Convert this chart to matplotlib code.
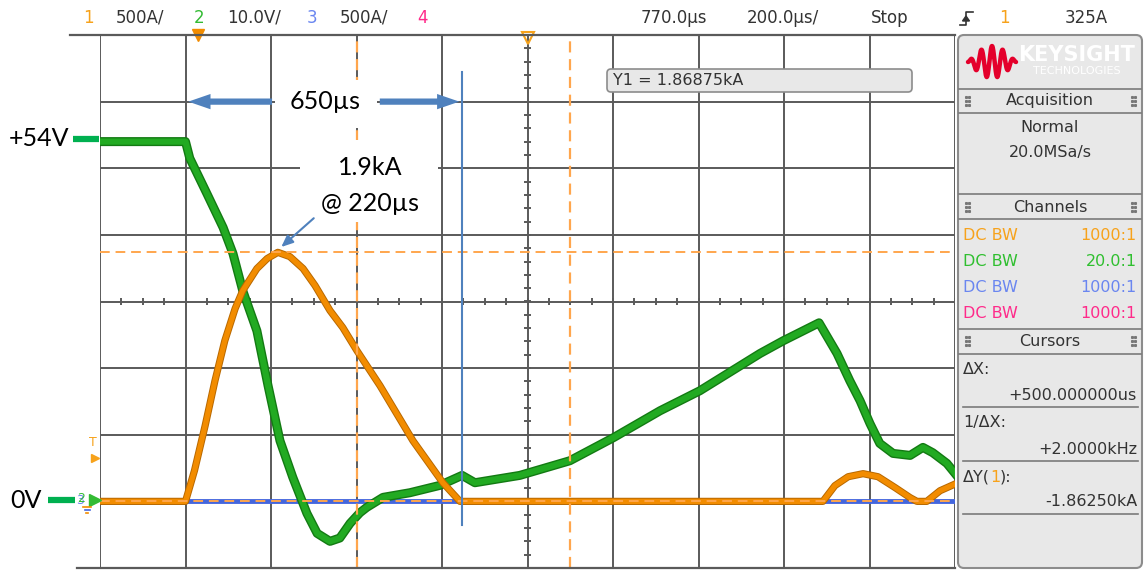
import numpy as np
import matplotlib.pyplot as plt
from matplotlib.patches import FancyBboxPatch, FancyArrowPatch, Polygon, Rectangle
import matplotlib.patheffects as pe

# channel 1 (current, A) - time in us
t1 = [-230, -30, -9, 16, 39, 62, 86, 104, 137, 161, 186, 214, 245, 273, 308, 338,
      371, 425, 502, 572, 612, 1461, 1489, 1520, 1555, 1590, 1630, 1665, 1681, 1704,
      1735, 1770]
a1 = [0, 0, 231, 569, 906, 1206, 1446, 1582, 1747, 1822, 1869, 1837, 1747, 1620,
      1432, 1304, 1131, 868, 455, 140, 0, 0, 118, 185, 208, 185, 103, 28, 0, 0, 80, 130]

# channel 2 (voltage, V)
t2 = [-230, -30, -20, 20, 58, 81, 104, 137, 163, 191, 221, 254, 278, 308, 331, 355,
      378, 394, 432, 495, 565, 617, 647, 752, 869, 972, 1080, 1173, 1314, 1368, 1452,
      1494, 1524, 1548, 1571, 1594, 1625, 1665, 1695, 1718, 1751, 1770]
v2 = [54, 54, 51.5, 46.2, 41.1, 37.2, 31.6, 25.6, 17.4, 9.1, 3.6, -1.8, -4.8, -6.0,
      -5.5, -3.3, -1.7, -0.9, 0.6, 1.3, 2.4, 3.9, 2.8, 3.9, 6.1, 9.6, 13.6, 16.6, 22.2,
      24.1, 26.8, 22.2, 18.1, 15.1, 11.7, 8.7, 7.2, 6.9, 8.1, 7.3, 5.7, 4.2]

# channel 3 (current, A)
t3 = [-230, 1770]
a3 = [0, 0]

# scope settings
t_center = 770.0
t_per_div = 200.0
ch1_scale, ch2_scale, ch3_scale = 500.0, 10.0, 500.0
ground_div = -3.0
cursor_x = [370, 870]
cursor_y = [1868.75, 6.25]
pulse_start, pulse_end = -30, 617
peak_t, peak_a = 186, 1869

header_left = [("1", "#f7a21b"), ("500A/", "#333333"), ("2", "#33bb33"),
               ("10.0V/", "#333333"), ("3", "#6a86f0"), ("500A/", "#333333"),
               ("4", "#ff2a8a")]
header_right = ["770.0µs", "200.0µs/", "Stop"]
channel_ratios = ["1000:1", "20.0:1", "1000:1", "1000:1"]
channel_colors = ["#f7a21b", "#2fbf2f", "#6a86f0", "#ff2a8a"]

ORANGE = "#f28c00"
GREEN = "#22aa22"
BLUE = "#4466dd"
ANNOT = "#4f81bd"

fig = plt.figure(figsize=(11.44, 5.74), dpi=100)
ax = fig.add_axes([100 / 1144, 6 / 574, 855 / 1144, 533 / 574])
x0, x1 = t_center - 5 * t_per_div, t_center + 5 * t_per_div
ax.set_xlim(x0, x1)
ax.set_ylim(-4, 4)
ax.axis("off")

# graticule
for k in range(11):
    ax.axvline(x0 + k * t_per_div, color="#5a5a5a", lw=1.4, zorder=1)
for k in range(-4, 5):
    ax.axhline(k, color="#5a5a5a", lw=1.4, zorder=1)
tx = np.arange(x0, x1 + 1, t_per_div / 4)
ax.vlines(tx, -0.05, 0.05, color="#5a5a5a", lw=1.4, zorder=1)
ty = np.arange(-4, 4.01, 0.2)
ax.hlines(ty, t_center - 8, t_center + 8, color="#5a5a5a", lw=1.4, zorder=1)


def to_div(vals, scale):
    return np.array(vals) / scale + ground_div


ax.plot(t3, to_div(a3, ch3_scale), color=BLUE, lw=3.5, zorder=3)
ax.plot(t2, to_div(v2, ch2_scale), color=GREEN, lw=4.5, zorder=4,
        path_effects=[pe.Stroke(linewidth=6.5, foreground="#137a13"), pe.Normal()])
ax.plot(t1, to_div(a1, ch1_scale), color=ORANGE, lw=3.8, zorder=5,
        path_effects=[pe.Stroke(linewidth=5.2, foreground="#b86800"), pe.Normal()])

# cursors
for cx in cursor_x:
    ax.axvline(cx, color="#ffa64d", lw=1.6, ls=(0, (5, 3)), zorder=6)
for cy in cursor_y:
    ax.axhline(cy / ch1_scale + ground_div, color="#ffa64d", lw=1.4,
               ls=(0, (5, 3)), zorder=6)

# top markers: trigger point and delay reference
ax.plot([0], [4], marker="v", ms=9, color="#f28c00", clip_on=False, zorder=7)
ax.plot([t_center], [3.95], marker="v", ms=9, mfc="none", mec="#f7a21b", mew=1.5,
        clip_on=False, zorder=7)

# annotations: white label backgrounds, arrows and text
ax.add_patch(Rectangle((179, 2.61), 239, 0.71, fc="white", ec="none", zorder=6.5))
ax.add_patch(Rectangle((238, 1.19), 323, 1.23, fc="white", ec="none", zorder=6.5))
ax.plot([pulse_end, pulse_end], [3.44, -3.35], color=ANNOT, lw=1.5, zorder=6)
for a, b in [(179, pulse_start), (418, pulse_end)]:
    ax.add_patch(FancyArrowPatch((a, 3.0), (b, 3.0), mutation_scale=10, lw=0,
                                 color=ANNOT, zorder=7,
                                 arrowstyle="simple,head_width=1.1,head_length=1.6,tail_width=0.45"))
ax.text(296, 3.0, "650µs", fontsize=18, family="Lato", ha="center", va="center",
        zorder=7)
ax.text(401, 2.01, "1.9kA", fontsize=18, family="Lato", ha="center", va="center",
        zorder=7)
ax.text(401, 1.47, "@ 220µs", fontsize=18, family="Lato", ha="center", va="center",
        zorder=7)
ax.annotate("", xy=(peak_t + 8, peak_a / ch1_scale + ground_div + 0.08),
            xytext=(270, 1.25),
            arrowprops=dict(arrowstyle="-|>,head_width=0.3,head_length=0.7",
                            color=ANNOT, lw=1.5, shrinkA=0, shrinkB=0), zorder=7)

# overlay in pixel coordinates for frame, header and side panel
ov = fig.add_axes([0, 0, 1, 1])
ov.set_xlim(0, 1144)
ov.set_ylim(574, 0)
ov.axis("off")
ov.patch.set_visible(False)

ov.plot([70, 955], [35, 35], color="#5a5a5a", lw=1.6)
ov.plot([77, 955], [568, 568], color="#5a5a5a", lw=1.6)

hdr = dict(fontsize=12, family="DejaVu Sans", va="center")
for (s, c), x in zip(header_left, [88, 116, 199, 227, 312, 340, 423]):
    ov.text(x, 18, s, color=c, ha="center" if len(s) == 1 else "left", **hdr)
for s, x in zip(header_right, [641, 747, 871]):
    ov.text(x, 18, s, color="#333333", ha="left", **hdr)
ov.plot([960, 966, 966, 973], [25, 25, 12, 12], color="#333333", lw=1.2)
ov.add_patch(Polygon([[962.5, 21], [969.5, 21], [966, 16]], closed=True, color="#333333"))
ov.text(1004, 18, "1", color="#f7a21b", ha="center", **hdr)
ov.text(1065, 18, "325A", color="#333333", ha="left", **hdr)

# left labels
ov.plot([73, 99], [139, 139], color="#00b050", lw=4.5, solid_capstyle="butt")
ov.text(39, 138, "+54V", fontsize=18, family="Lato", ha="center", va="center")
ov.plot([48, 75], [500, 500], color="#00b050", lw=4.5, solid_capstyle="butt")
ov.text(26, 501, "0V", fontsize=18, family="Lato", ha="center", va="center")
ov.text(80, 500, "3", color="#6a86f0", fontsize=9, ha="center", va="center")
ov.text(81, 498, "2", color="#33bb33", fontsize=9, ha="center", va="center")
ov.plot([95], [500], marker=">", ms=8, color="#33bb33")
ov.plot([83, 91], [507, 507], color="#f28c00", lw=1.2)
ov.plot([84.5, 89.5], [510, 510], color="#4466dd", lw=1.2)
ov.plot([86, 88], [513, 513], color="#f28c00", lw=1.2)
ov.text(93, 443, "T", color="#f7a21b", fontsize=9, ha="center", va="center")
ov.plot([95], [458], marker=">", ms=6, color="#f7a21b")

# cursor readout
ov.add_patch(FancyBboxPatch((607, 69), 305, 23, boxstyle="round,pad=0,rounding_size=4",
                            fc="#e8e8e8", ec="#8c8c8c", lw=1.2))
ov.text(613, 80.5, "Y1 = 1.86875kA", color="#333333", fontsize=11.5, va="center")

# side panel
ov.add_patch(FancyBboxPatch((958, 35), 184, 533, boxstyle="round,pad=0,rounding_size=6",
                            fc="#e8e8e8", ec="#8c8c8c", lw=1.5))
lx = np.linspace(968, 1016, 160)
ly = 62 - 16 * np.sin(np.pi * (lx - 968) / 48) * np.sin(2 * np.pi * 4.5 * (lx - 968) / 48)
ov.plot(lx, ly, color="#e4002b", lw=3.2, solid_capstyle="round")
ov.text(1077, 55, "KEYSIGHT", color="white", fontsize=15, fontweight="bold",
        ha="center", va="center")
ov.text(1077, 71, "TECHNOLOGIES", color="white", fontsize=8, ha="center", va="center")

for y in [89, 113, 194, 219, 329, 354]:
    ov.plot([959, 1141], [y, y], color="#7a7a7a", lw=1.2)
for y in [407, 461, 514]:
    ov.plot([963, 1138], [y, y], color="#7a7a7a", lw=1.2)
for y, s in [(101, "Acquisition"), (207, "Channels"), (341, "Cursors")]:
    ov.text(1050, y, s, color="#333333", fontsize=11.5, ha="center", va="center")
    for gx in [966, 1132]:
        ov.plot([gx, gx, gx, gx + 3, gx + 3, gx + 3], [y - 4, y, y + 4, y - 4, y, y + 4],
                ls="none", marker="s", ms=1.2, color="#777777")
ov.text(1050, 127, "Normal", color="#333333", fontsize=11.5, ha="center", va="center")
ov.text(1050, 153, "20.0MSa/s", color="#333333", fontsize=11.5, ha="center", va="center")
for y, r, c in zip([235, 261, 288, 314], channel_ratios, channel_colors):
    ov.text(963, y, "DC BW", color=c, fontsize=11.5, ha="left", va="center")
    ov.text(1137, y, r, color=c, fontsize=11.5, ha="right", va="center")
ov.text(963, 369, "ΔX:", color="#333333", fontsize=11.5, va="center")
ov.text(1137, 395, "+500.000000us", color="#333333", fontsize=11.5, ha="right", va="center")
ov.text(963, 423, "1/ΔX:", color="#333333", fontsize=11.5, va="center")
ov.text(1137, 449, "+2.0000kHz", color="#333333", fontsize=11.5, ha="right", va="center")
t = ov.text(963, 477, "ΔY(", color="#333333", fontsize=11.5, va="center")
ov.annotate("1", xycoords=t, xy=(1, 0.5), va="center", color="#f7a21b", fontsize=11.5)
ov.text(1000, 477, "):", color="#333333", fontsize=11.5, va="center")
ov.text(1137, 502, "-1.86250kA", color="#333333", fontsize=11.5, ha="right", va="center")

fig.savefig("out.png", dpi=100)
